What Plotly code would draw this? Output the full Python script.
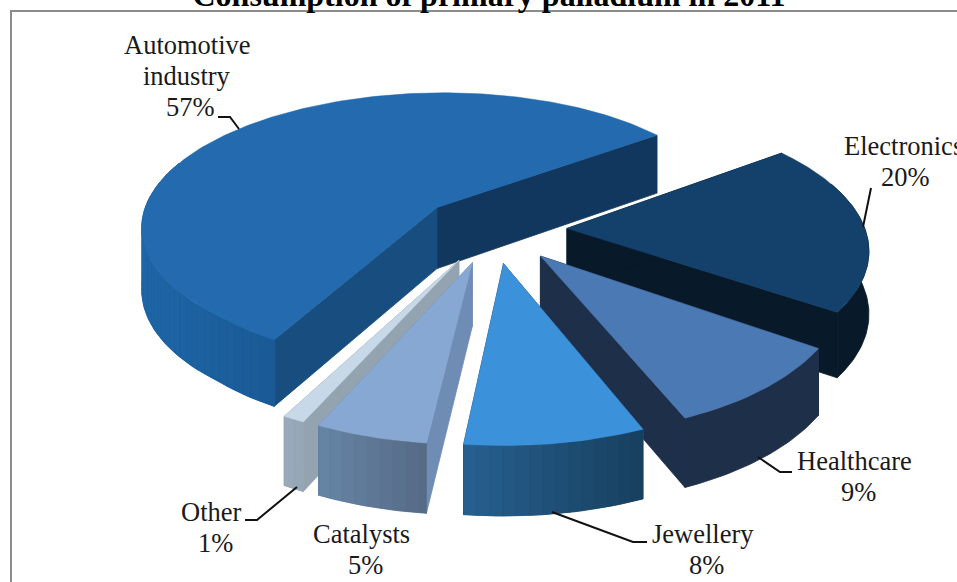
import math
import plotly.graph_objects as go

# ---- data, in drawing order round the pie (anticlockwise from the Automotive far edge)
categories = ["Automotive industry", "Other", "Catalysts", "Jewellery", "Healthcare", "Electronics"]
shares = [57, 1, 5, 8, 9, 20]

top_colors = ["#236AAE", "#C7D8E8", "#87A8D3", "#3C91DB", "#4A79B3", "#13416B"]
cut_colors = ["#174D7F", "#93A3B0", "#6E8CB4", "#1E4F7C", "#1E2F4A", "#08192A"]
far_cut_colors = ["#11375E", "#93A3B0", "#6E8CB4", "#1E4F7C", "#1E2F4A", "#08192A"]
wall_left = ["#1F66A6", "#9AAAB8", "#6685A6", "#27608F", "#1E2F4A", "#08192A"]
wall_right = ["#1A5A96", "#95A6B5", "#566A85", "#17405F", "#1E2F4A", "#08192A"]
paint_order = [0, 5, 4, 1, 2, 3]

# ---- projection settings
START_DEG = 37.0
EXPLODE = 0.25
OX, OY, RX, RY, PERSP, DEPTH = 492.5, 229.0, 298.0, 135.3, 0.133, 62.0


def project(X, Y):
    s = 1 / (1 + PERSP * Y)
    near = max(0.0, -0.6 - Y)  # extra stretch of the nearest part of the view
    px = OX + RX * X * s * (1 + 0.05 * near) - 3.5 * near
    py = OY - RY * Y * s + 22 * near
    return px, py, DEPTH * s ** 0.7


def rgb(hex_color):
    return [int(hex_color[i:i + 2], 16) for i in (1, 3, 5)]


def mix(a, b, t):
    t = max(0.0, min(1.0, t))
    ca, cb = rgb(a), rgb(b)
    return "rgb(%d,%d,%d)" % tuple(round(p + (q - p) * t) for p, q in zip(ca, cb))


fig = go.Figure()


def poly(xs, ys, color, lw=0.8):
    fig.add_trace(go.Scatter(x=xs + xs[:1], y=ys + ys[:1], mode="lines", fill="toself",
                             fillcolor=color, line=dict(color=color, width=lw),
                             hoverinfo="skip", showlegend=False))


# slice angles come from the shares
total = sum(shares)
angles = []
a = START_DEG
for v in shares:
    angles.append((a, a + 360 * v / total))
    a += 360 * v / total

for i in paint_order:
    a0, a1 = angles[i]
    mid = math.radians((a0 + a1) / 2)
    cx, cy = EXPLODE * math.cos(mid), EXPLODE * math.sin(mid)
    n = max(4, int((a1 - a0) / 1.0))
    thetas = [math.radians(a0 + (a1 - a0) * j / n) for j in range(n + 1)]
    rim = [project(cx + math.cos(t), cy + math.sin(t)) for t in thetas]
    apex = project(cx, cy)
    # both radial cut faces
    for k, col in ((0, far_cut_colors[i]), (n, cut_colors[i])):
        p = rim[k]
        poly([apex[0], p[0], p[0], apex[0]],
             [apex[1], p[1], p[1] + p[2], apex[1] + apex[2]], col)
    # curved outer wall: a solid base with shaded bands on top of it
    vis = [j for j in range(n) if math.sin((thetas[j] + thetas[j + 1]) / 2) < 0.35]
    if vis:
        span = list(range(vis[0], vis[-1] + 2))
        xs = [rim[j][0] for j in span]
        ys = [rim[j][1] for j in span]
        poly(xs + xs[::-1], ys + [rim[j][1] + rim[j][2] for j in span][::-1],
             mix(wall_left[i], wall_right[i], 0.5))
        xmin, xmax = min(xs), max(xs)
        if wall_left[i] != wall_right[i]:
            step = 2
            for j in vis[::step]:
                j2 = min(j + step, span[-1])
                seg = list(range(j, j2 + 1))
                t = ((rim[j][0] + rim[j2][0]) / 2 - xmin) / max(1.0, xmax - xmin)
                sx = [rim[m][0] for m in seg]
                sy = [rim[m][1] for m in seg]
                sb = [rim[m][1] + rim[m][2] for m in seg]
                poly(sx + sx[::-1], sy + sb[::-1], mix(wall_left[i], wall_right[i], t), 0.2)
    # top face
    poly([apex[0]] + [p[0] for p in rim], [apex[1]] + [p[1] for p in rim], top_colors[i], 0.5)

# ---- leader lines
leaders = [
    [(218, 117), (230, 117), (239, 129)],
    [(871, 188), (863, 227)],
    [(758, 457), (780, 472), (792, 472)],
    [(552, 512), (633, 542), (647, 542)],
    [(297, 487), (257, 520), (245, 520)],
]
for pts in leaders:
    fig.add_trace(go.Scatter(x=[p[0] for p in pts], y=[p[1] for p in pts], mode="lines",
                             line=dict(color="#111111", width=2), hoverinfo="skip",
                             showlegend=False))

# ---- labels
FONT = "Liberation Serif"
label_lines = [
    ("Automotive", 187, 45, "center"), ("industry", 187, 76, "center"), ("57%", 190, 107, "center"),
    ("Electronics", 843, 146, "left"), ("20%", 905, 177, "center"),
    ("Healthcare", 854, 461, "center"), ("9%", 858, 492, "center"),
    ("Jewellery", 703, 534, "center"), ("8%", 706, 565, "center"),
    ("Catalysts", 361, 534, "center"), ("5%", 365, 565, "center"),
    ("Other", 211, 512, "center"), ("1%", 215, 543, "center"),
]
annotations = [dict(x=x, y=y, text=t, xref="x", yref="y", showarrow=False, xanchor=anc,
                    yanchor="middle", borderpad=0, font=dict(family=FONT, size=26.5, color="#1a1a1a"))
               for t, x, y, anc in label_lines]

fig.update_layout(
    width=957, height=582, margin=dict(l=0, r=0, t=0, b=0),
    paper_bgcolor="white", plot_bgcolor="white", showlegend=False,
    title=dict(text="<b>Consumption of primary palladium in 2011</b>", x=489 / 957, xanchor="center",
               y=0.990, yanchor="bottom", font=dict(family=FONT, size=32, color="#000000")),
    xaxis=dict(range=[0, 957], visible=False, fixedrange=True),
    yaxis=dict(range=[582, 0], visible=False, fixedrange=True),
    annotations=annotations,
    shapes=[dict(type="path", path="M 11 582 L 11 11 L 957 11", xref="x", yref="y",
                 line=dict(color="#8c8c8c", width=2))],
)

fig.write_html("out.html", config={"displayModeBar": False},
               post_script="document.body.style.margin='0';document.body.style.overflow='hidden';")
